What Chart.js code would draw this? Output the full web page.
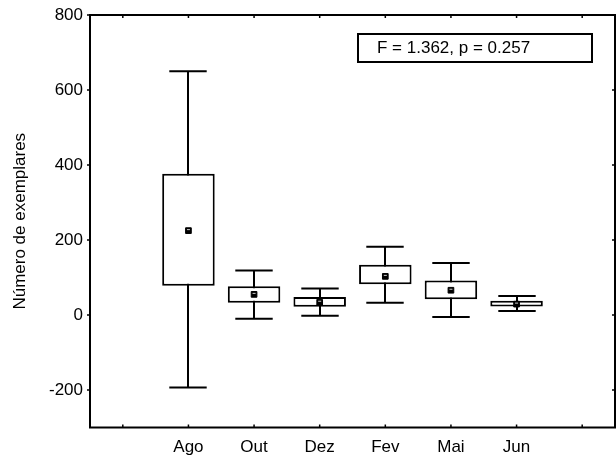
<!DOCTYPE html>
<html>
<head>
<meta charset="utf-8">
<script src="https://cdn.jsdelivr.net/npm/chart.js@4/dist/chart.umd.min.js"></script>
<style>
  html, body { margin: 0; padding: 0; background: #fff; }
  #wrap { width: 616px; height: 459px; }
</style>
</head>
<body>
<div id="wrap"><canvas id="boxChart" width="616" height="459"></canvas></div>
<script>
// Categories (empty slots at both ends)
const months = ["", "Ago", "Out", "Dez", "Fev", "Mai", "Jun", ""];
// Mean, box limits and whisker limits per month
const means = [null, 225, 55, 34, 103, 66, 29, null];
const boxLow = [null, 78, 33, 22, 82, 42, 23, null];
const boxHigh = [null, 377, 77, 48, 134, 92, 38, null];
const whiskLow = [null, -193, -10, -2, 33, -5, 11, null];
const whiskHigh = [null, 650, 119, 71, 182, 139, 51, null];
const yTicks = [-200, 0, 200, 400, 600, 800];
const statText = "F = 1.362, p = 0.257";

const FONT = "'Liberation Sans', Arial, sans-serif";

// Whiskers + caps, drawn under the boxes
const whiskers = {
  id: "whiskers",
  beforeDatasetsDraw: (chart) => {
    const ctx = chart.ctx;
    const x = chart.scales.x;
    const y = chart.scales.y;
    const half = (x.width / months.length) * 0.285;
    ctx.save();
    ctx.strokeStyle = "#000";
    ctx.lineWidth = 2;
    for (let i = 0; i < months.length; i++) {
      if (whiskLow[i] === null) continue;
      const px = Math.round(x.getPixelForValue(i));
      const lo = y.getPixelForValue(whiskLow[i]);
      const hi = y.getPixelForValue(whiskHigh[i]);
      ctx.beginPath();
      ctx.moveTo(px, lo);
      ctx.lineTo(px, hi);
      ctx.moveTo(px - half, lo);
      ctx.lineTo(px + half, lo);
      ctx.moveTo(px - half, hi);
      ctx.lineTo(px + half, hi);
      ctx.stroke();
    }
    ctx.restore();
  },
  afterDatasetsDraw: (chart) => {
    // little light notch in each mean marker
    const ctx = chart.ctx;
    const x = chart.scales.x;
    const y = chart.scales.y;
    ctx.save();
    ctx.fillStyle = "#ccc";
    for (let i = 0; i < months.length; i++) {
      if (means[i] === null) continue;
      const px = x.getPixelForValue(i);
      const py = y.getPixelForValue(means[i]);
      ctx.fillRect(px - 1.5, py - 1.5, 3, 1);
    }
    ctx.restore();
  },
};

// Frame, tick marks and the stats box
const frame = {
  id: "frame",
  afterDraw: (chart) => {
    const ctx = chart.ctx;
    const a = chart.chartArea;
    const x = chart.scales.x;
    const y = chart.scales.y;
    ctx.save();
    ctx.strokeStyle = "#000";
    ctx.lineWidth = 2;
    ctx.strokeRect(a.left, a.top, a.right - a.left, a.bottom - a.top);

    ctx.lineWidth = 1.5;
    ctx.beginPath();
    for (let i = 0; i < months.length; i++) {
      const px = x.getPixelForValue(i);
      ctx.moveTo(px, a.top);
      ctx.lineTo(px, a.top + 3);
      ctx.moveTo(px, a.bottom);
      ctx.lineTo(px, a.bottom - 3);
    }
    yTicks.forEach((v) => {
      const py = y.getPixelForValue(v);
      ctx.moveTo(a.left, py);
      ctx.lineTo(a.left - 3, py);
      ctx.moveTo(a.right, py);
      ctx.lineTo(a.right - 3, py);
    });
    ctx.stroke();

    // stats label
    ctx.lineWidth = 2;
    ctx.fillStyle = "#fff";
    ctx.fillRect(358, 34, 234, 28);
    ctx.strokeRect(358, 34, 234, 28);
    ctx.fillStyle = "#000";
    ctx.font = "17px " + FONT;
    ctx.textBaseline = "middle";
    ctx.fillText(statText, 377, 48.5);
    ctx.restore();
  },
};

new Chart(document.getElementById("boxChart"), {
  type: "bar",
  data: {
    labels: months,
    datasets: [
      {
        label: "box",
        data: boxLow.map((v, i) => (v === null ? null : [v, boxHigh[i]])),
        backgroundColor: "#fff",
        borderColor: "#000",
        borderWidth: 2,
        borderSkipped: false,
        barPercentage: 0.8,
        categoryPercentage: 1.0,
        order: 2,
      },
      {
        type: "line",
        label: "mean",
        data: means,
        showLine: false,
        pointStyle: "rect",
        pointRadius: 4,
        borderWidth: 1,
        backgroundColor: "#000",
        borderColor: "#000",
        order: 1,
      },
    ],
  },
  options: {
    responsive: false,
    animation: false,
    events: [],
    layout: {
      autoPadding: false,
      padding: { top: 15, right: 1, left: 0, bottom: 0 },
    },
    plugins: {
      legend: { display: false },
      tooltip: { enabled: false },
    },
    scales: {
      x: {
        offset: true,
        grid: { display: false, drawTicks: false },
        border: { display: false },
        ticks: {
          color: "#000",
          font: { family: FONT, size: 17 },
          padding: 10,
          maxRotation: 0,
          autoSkip: false,
        },
        afterFit: (scale) => {
          scale.height = 31.5;
          scale.paddingLeft = 0;
          scale.paddingRight = 0;
        },
      },
      y: {
        min: -300,
        max: 800,
        grid: { display: false, drawTicks: false },
        border: { display: false },
        ticks: {
          color: "#000",
          font: { family: FONT, size: 17 },
          padding: 7,
        },
        afterBuildTicks: (scale) => {
          scale.ticks = yTicks.map((v) => ({ value: v }));
        },
        title: {
          display: true,
          text: "Número de exemplares",
          color: "#000",
          font: { family: FONT, size: 17 },
          padding: { top: 10, bottom: 0 },
        },
        afterFit: (scale) => {
          scale.width = 90;
          scale.paddingTop = 0;
          scale.paddingBottom = 0;
        },
      },
    },
  },
  plugins: [whiskers, frame],
});
</script>
</body>
</html>
